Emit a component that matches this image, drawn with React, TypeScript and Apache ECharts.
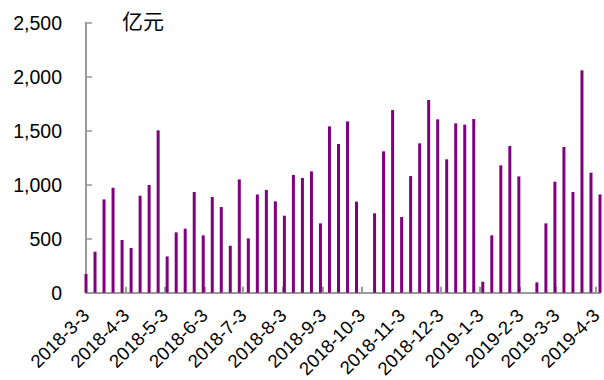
import React, { useEffect, useRef } from "react";
import * as echarts from "echarts";

// Weekly dates (2018-3-3 + 7 days each)
const weekDates: string[] = [
  "2018-03-03", "2018-03-10", "2018-03-17", "2018-03-24", "2018-03-31",
  "2018-04-07", "2018-04-14", "2018-04-21", "2018-04-28",
  "2018-05-05", "2018-05-12", "2018-05-19", "2018-05-26",
  "2018-06-02", "2018-06-09", "2018-06-16", "2018-06-23", "2018-06-30",
  "2018-07-07", "2018-07-14", "2018-07-21", "2018-07-28",
  "2018-08-04", "2018-08-11", "2018-08-18", "2018-08-25",
  "2018-09-01", "2018-09-08", "2018-09-15", "2018-09-22", "2018-09-29",
  "2018-10-06", "2018-10-13", "2018-10-20", "2018-10-27",
  "2018-11-03", "2018-11-10", "2018-11-17", "2018-11-24",
  "2018-12-01", "2018-12-08", "2018-12-15", "2018-12-22", "2018-12-29",
  "2019-01-05", "2019-01-12", "2019-01-19", "2019-01-26",
  "2019-02-02", "2019-02-09", "2019-02-16", "2019-02-23",
  "2019-03-02", "2019-03-09", "2019-03-16", "2019-03-23", "2019-03-30",
  "2019-04-06",
];

// Weekly values (亿元)
const weekValues: (number | null)[] = [
  173, 380, 864, 972, 488, 414, 898, 997, 1503, 336,
  559, 593, 932, 531, 886, 793, 435, 1049, 503, 910,
  951, 846, 713, 1090, 1062, 1123, 642, 1540, 1377, 1586,
  843, null, 735, 1309, 1691, 701, 1080, 1383, 1784, 1605,
  1235, 1568, 1556, 1608, 102, 531, 1179, 1358, 1077, null,
  96, 642, 1028, 1349, 932, 2059, 1111, 910,
];

// Monthly tick labels on the x axis
const tickDates: string[] = [
  "2018-3-3", "2018-4-3", "2018-5-3", "2018-6-3", "2018-7-3", "2018-8-3",
  "2018-9-3", "2018-10-3", "2018-11-3", "2018-12-3", "2019-1-3", "2019-2-3",
  "2019-3-3", "2019-4-3",
];

const axisStart = "2018-3-3";
const axisEnd = "2019-4-6";

const yTicks: number[] = [0, 500, 1000, 1500, 2000, 2500];
const unitLabel = "亿元";

const DAY = 86400000;
const T0 = Date.UTC(2018, 2, 3);

// days since axisStart
function toDay(s: string): number {
  const [y, m, d] = s.split("-").map(Number);
  return Math.round((Date.UTC(y, m - 1, d) - T0) / DAY);
}

function fmtDay(v: number): string {
  const d = new Date(T0 + Math.round(v) * DAY);
  return `${d.getUTCFullYear()}-${d.getUTCMonth() + 1}-${d.getUTCDate()}`;
}

function fmtNum(v: number): string {
  return String(v).replace(/\B(?=(\d{3})+(?!\d))/g, ",");
}

const AXIS_GRAY = "#9a9a9a";
const FONT = "Arial, 'Liberation Sans', sans-serif";

export default function App() {
  const ref = useRef<HTMLDivElement>(null);

  useEffect(() => {
    if (!ref.current) return;
    const chart = echarts.init(ref.current, undefined, { renderer: "svg" });
    const tickValues = tickDates.map(toDay);
    chart.setOption({
      animation: false,
      backgroundColor: "#ffffff",
      grid: {
        left: 86,
        right: 4,
        top: 22.7,
        bottom: 87.3,
        containLabel: false,
        outerBoundsMode: "none",
      },
      xAxis: {
        type: "value",
        min: toDay(axisStart),
        max: toDay(axisEnd),
        axisLine: { show: true, lineStyle: { color: AXIS_GRAY, width: 2 } },
        axisTick: {
          show: true,
          inside: true,
          length: 6,
          customValues: tickValues,
          lineStyle: { color: AXIS_GRAY, width: 2 },
        },
        axisLabel: {
          show: true,
          customValues: tickValues,
          rotate: 45,
          margin: 19.5,
          color: "#000",
          fontSize: 18.5,
          fontFamily: FONT,
          showMinLabel: true,
          showMaxLabel: true,
          formatter: (v: number) => fmtDay(v),
        },
        splitLine: { show: false },
      },
      yAxis: {
        type: "value",
        min: yTicks[0],
        max: yTicks[yTicks.length - 1],
        interval: 500,
        axisLine: { show: true, lineStyle: { color: AXIS_GRAY, width: 2 } },
        axisTick: { show: true, inside: true, length: 6, lineStyle: { color: AXIS_GRAY, width: 1.5 } },
        axisLabel: {
          margin: 24,
          color: "#000",
          fontSize: 19.5,
          fontFamily: FONT,
          formatter: (v: number) => fmtNum(v),
        },
        splitLine: { show: false },
      },
      graphic: [
        {
          type: "text",
          left: 122,
          top: 9,
          style: {
            text: unitLabel,
            font: "21px 'Noto Sans CJK SC'",
            fill: "#000",
          },
        },
      ],
      series: [
        {
          type: "bar",
          barWidth: 3,
          clip: false,
          itemStyle: { color: "#800080" },
          data: weekDates.map((d, i) => [toDay(d), weekValues[i]]),
        },
      ],
    });
    return () => chart.dispose();
  }, []);

  return (
    <div
      ref={ref}
      style={{ position: "absolute", left: 0, top: 0, width: 604, height: 380 }}
    />
  );
}
